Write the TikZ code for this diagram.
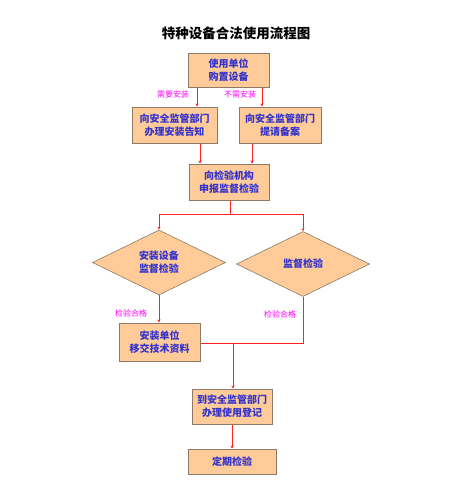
\documentclass[tikz,border=0pt]{standalone}
\usepackage{fontspec}
\newfontfamily\cjk{Noto Sans CJK SC}
\usetikzlibrary{shapes.geometric,arrows.meta}
\definecolor{boxfill}{HTML}{FFCC99}
\definecolor{boxline}{HTML}{8C7A66}
\definecolor{boxtext}{HTML}{3333CC}
\definecolor{lbl}{HTML}{FF00FF}
\definecolor{arr}{HTML}{FF2020}
\tikzset{
  flowbox/.style={draw=boxline,line width=1pt,fill=boxfill,text=boxtext,font=\cjk\fontsize{10}{13}\selectfont\bfseries,align=center,inner sep=0pt},
  flowdia/.style={diamond,draw=boxline,line width=0.6pt,fill=boxfill,text=boxtext,font=\cjk\fontsize{10}{13}\selectfont\bfseries,align=center,inner sep=0pt,minimum width=133pt,minimum height=65pt,aspect=2.05},
  lbltext/.style={text=lbl,font=\cjk\fontsize{8}{9}\selectfont,inner sep=0pt},
  conn/.style={draw=arr,line width=0.8pt},
  arrow/.style={conn,-{Stealth[length=3pt,width=3pt]}}
}
\begin{document}
\begin{tikzpicture}[x=1pt,y=-1pt]
\useasboundingbox (0,0) rectangle (454,499);
\node[font=\cjk\fontsize{13.5}{15}\selectfont\bfseries] (title) at (236,33) {特种设备合法使用流程图};
\node[flowbox,minimum width=81pt,minimum height=34pt] (b1) at (228.5,70) {使用单位\\购置设备};
\node[flowbox,minimum width=85pt,minimum height=36pt] (b2l) at (174.5,125) {向安全监管部门\\办理安装告知};
\node[flowbox,minimum width=82pt,minimum height=36pt] (b2r) at (280,125) {向安全监管部门\\提请备案};
\node[flowbox,minimum width=80pt,minimum height=36pt] (b3) at (229,182) {向检验机构\\申报监督检验};
\node[flowdia] (d1) at (159,262.5) {安装设备\\监督检验};
\node[flowdia] (d2) at (303,264) {监督检验};
\node[flowbox,minimum width=81pt,minimum height=38pt] (b4) at (159.5,342) {安装单位\\移交技术资料};
\node[flowbox,minimum width=80pt,minimum height=35pt] (b5) at (232,406.5) {到安全监管部门\\办理使用登记};
\node[flowbox,minimum width=88pt,minimum height=25pt] (b6) at (232,461.5) {定期检验};

\coordinate (j1) at (230,214);
\coordinate (j2) at (233,343);

\draw[arrow] (b1.south -| 197,0) -- (b2l.north -| 197,0);
\draw[arrow] (b1.south -| 262,0) -- (b2r.north -| 262,0);
\node[lbltext] (l1) at (173,94) {需要安装};
\node[lbltext] (l2) at (240,94) {不需安装};

\draw[arrow] (b2l.south -| 200,0) -- (b3.north -| 200,0);
\draw[arrow] (b2r.south -| 252,0) -- (b3.north -| 252,0);

\draw[conn] (b3.south -| j1) -- (j1);
\draw[arrow] (j1) -| (d1.north);
\draw[arrow] (j1) -| (d2.north);

\draw[arrow] (d1.south) -- (b4.north -| d1.south);
\node[lbltext] (l3) at (131,313) {检验合格};
\node[lbltext] (l4) at (280,314) {检验合格};
\draw[conn] (d2.south) |- (b4.east |- j2);
\draw[arrow] (j2) -- (b5.north -| j2);
\draw[arrow] (b5.south) -- (b6.north);
\end{tikzpicture}
\end{document}
